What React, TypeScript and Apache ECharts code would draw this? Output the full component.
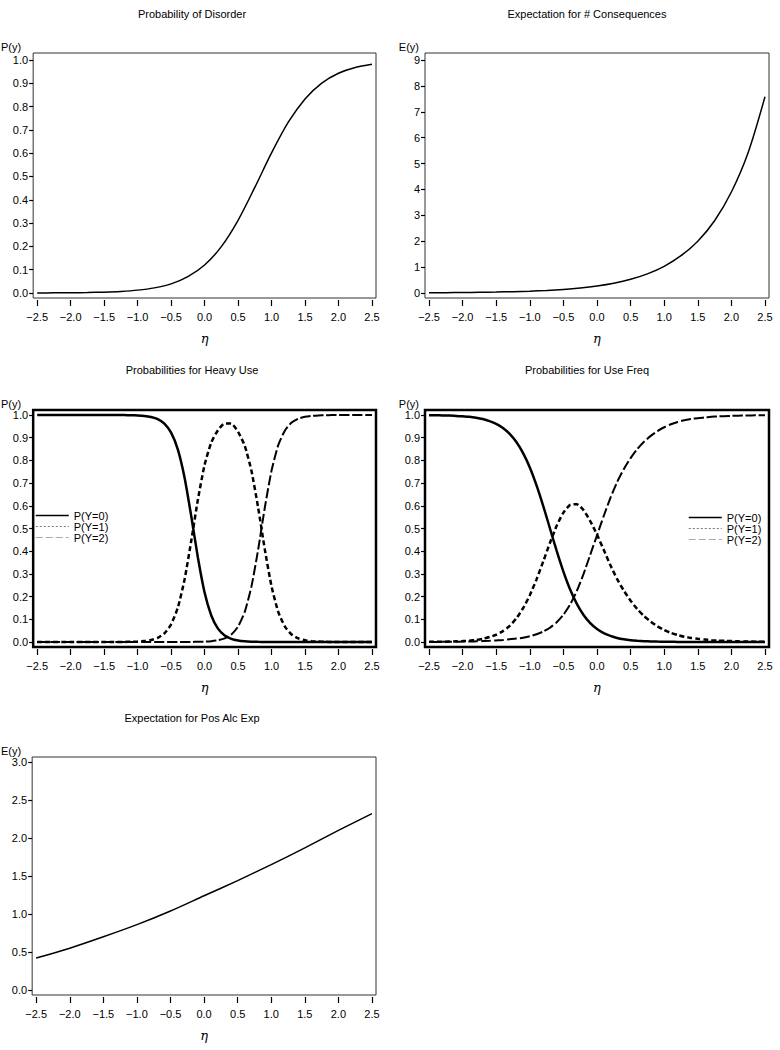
import React, { useEffect, useRef } from "react";
import * as echarts from "echarts";

// ---------- data ----------
const etaCoarse = [-2.5, -2.25, -2.0, -1.75, -1.5, -1.25, -1.0, -0.75, -0.5, -0.25, 0.0, 0.25, 0.5, 0.75, 1.0, 1.25, 1.5, 1.75, 2.0, 2.25, 2.5];
const disorderP = [0.0003, 0.0006, 0.0011, 0.002, 0.0037, 0.0068, 0.0123, 0.022, 0.039, 0.07, 0.12, 0.199, 0.312, 0.453, 0.601, 0.733, 0.833, 0.901, 0.943, 0.968, 0.982];
const consequencesE = [0.01, 0.014, 0.019, 0.027, 0.037, 0.052, 0.072, 0.1, 0.14, 0.196, 0.273, 0.38, 0.53, 0.739, 1.03, 1.44, 2.0, 2.79, 3.9, 5.43, 7.58];

const etaFine = [-2.5, -2.4, -2.3, -2.2, -2.1, -2.0, -1.9, -1.8, -1.7, -1.6, -1.5, -1.4, -1.3, -1.2, -1.1, -1.0, -0.9, -0.8, -0.7, -0.6, -0.5, -0.4, -0.3, -0.2, -0.1, 0.0, 0.1, 0.2, 0.3, 0.4, 0.5, 0.6, 0.7, 0.8, 0.9, 1.0, 1.1, 1.2, 1.3, 1.4, 1.5, 1.6, 1.7, 1.8, 1.9, 2.0, 2.1, 2.2, 2.3, 2.4, 2.5];

const heavyP0 = [1, 1, 1, 1, 1, 1, 1, 1, 1, 1, 1, 0.9999, 0.9998, 0.9996, 0.9991, 0.998, 0.996, 0.991, 0.982, 0.962, 0.922, 0.849, 0.726, 0.556, 0.372, 0.218, 0.117, 0.059, 0.029, 0.014, 0.0065, 0.003, 0.0015, 0.0007, 0.0003, 0.0001, 0, 0, 0, 0, 0, 0, 0, 0, 0, 0, 0, 0, 0, 0, 0];
const heavyP1 = [0, 0, 0, 0, 0, 0, 0, 0, 0, 0, 0, 0.0001, 0.0002, 0.0004, 0.0009, 0.002, 0.004, 0.009, 0.018, 0.038, 0.078, 0.151, 0.274, 0.444, 0.627, 0.78, 0.879, 0.933, 0.963, 0.962, 0.926, 0.864, 0.754, 0.592, 0.407, 0.245, 0.133, 0.068, 0.033, 0.016, 0.0076, 0.0036, 0.0017, 0.0008, 0.0004, 0.0002, 0.0001, 0, 0, 0, 0];
const heavyP2 = [0, 0, 0, 0, 0, 0, 0, 0, 0, 0, 0, 0, 0, 0, 0, 0, 0, 0, 0, 0, 0, 0, 0, 0.0004, 0.0008, 0.0017, 0.0036, 0.0076, 0.016, 0.033, 0.068, 0.133, 0.245, 0.407, 0.593, 0.755, 0.867, 0.932, 0.967, 0.984, 0.992, 0.996, 0.998, 0.999, 0.9996, 1, 1, 1, 1, 1, 1];

const freqP0 = [0.999, 0.999, 0.998, 0.998, 0.996, 0.994, 0.992, 0.988, 0.982, 0.973, 0.961, 0.943, 0.917, 0.881, 0.832, 0.769, 0.69, 0.599, 0.5, 0.401, 0.31, 0.231, 0.168, 0.119, 0.083, 0.057, 0.039, 0.027, 0.018, 0.012, 0.008, 0.0055, 0.0037, 0.0025, 0.0017, 0.0011, 0.0008, 0.0005, 0.0003, 0.0002, 0.0001, 0, 0, 0, 0, 0, 0, 0, 0, 0, 0];
const freqP1 = [0.001, 0.001, 0.001, 0.002, 0.003, 0.004, 0.006, 0.009, 0.014, 0.022, 0.032, 0.048, 0.071, 0.104, 0.149, 0.206, 0.276, 0.355, 0.437, 0.512, 0.57, 0.604, 0.607, 0.581, 0.532, 0.473, 0.406, 0.338, 0.277, 0.226, 0.182, 0.145, 0.114, 0.09, 0.069, 0.053, 0.04, 0.031, 0.023, 0.018, 0.014, 0.011, 0.008, 0.006, 0.005, 0.004, 0.003, 0.002, 0.002, 0.001, 0.001];
const freqP2 = [0, 0, 0.001, 0.001, 0.001, 0.002, 0.002, 0.003, 0.004, 0.005, 0.007, 0.009, 0.012, 0.015, 0.019, 0.025, 0.034, 0.046, 0.063, 0.087, 0.12, 0.165, 0.225, 0.3, 0.385, 0.47, 0.555, 0.635, 0.705, 0.762, 0.81, 0.85, 0.882, 0.908, 0.929, 0.946, 0.959, 0.969, 0.977, 0.982, 0.986, 0.989, 0.992, 0.994, 0.995, 0.996, 0.997, 0.998, 0.998, 0.999, 0.999];

const etaHalf = [-2.5, -2.0, -1.5, -1.0, -0.5, 0.0, 0.5, 1.0, 1.5, 2.0, 2.5];
const posAlcE = [0.42, 0.55, 0.7, 0.86, 1.04, 1.24, 1.44, 1.65, 1.87, 2.1, 2.32];

const xTicks = [-2.5, -2.0, -1.5, -1.0, -0.5, 0.0, 0.5, 1.0, 1.5, 2.0, 2.5];
const probTicks = [0, 0.1, 0.2, 0.3, 0.4, 0.5, 0.6, 0.7, 0.8, 0.9, 1.0];
const countTicks = [0, 1, 2, 3, 4, 5, 6, 7, 8, 9];
const posTicks = [0, 0.5, 1.0, 1.5, 2.0, 2.5, 3.0];

const titles = [
  "Probability of Disorder",
  "Expectation for # Consequences",
  "Probabilities for Heavy Use",
  "Probabilities for Use Freq",
  "Expectation for Pos Alc Exp",
];
const catNames = ["P(Y=0)", "P(Y=1)", "P(Y=2)"];

// ---------- styling ----------
const SANS = "'Liberation Sans', Arial, sans-serif";
const fmt1 = (v: number) => v.toFixed(1).replace("-", "\u2212");
const fmt0 = (v: number) => String(Math.round(v));

const pairs = (xs: number[], ys: number[]) => xs.map((x, i) => [x, ys[i]]);

const panels = [
  { left: 32, top: 53, height: 245, ymin: -0.0215, ymax: 1.03, yTicks: probTicks, yFmt: fmt1, yName: "P(y)", namePad: 12, tx: 192, ty: 8, bw: 1, bc: "#333" },
  { left: 425, top: 53, height: 245, ymin: -0.193, ymax: 9.27, yTicks: countTicks, yFmt: fmt0, yName: "E(y)", namePad: 6, tx: 587, ty: 8, bw: 1, bc: "#333" },
  { left: 32, top: 410, height: 237, ymin: -0.022, ymax: 1.022, yTicks: probTicks, yFmt: fmt1, yName: "P(y)", namePad: 12, tx: 192, ty: 364, bw: 2.5, bc: "#000" },
  { left: 425, top: 410, height: 237, ymin: -0.022, ymax: 1.022, yTicks: probTicks, yFmt: fmt1, yName: "P(y)", namePad: 6, tx: 587, ty: 364, bw: 2.5, bc: "#000" },
  { left: 32, top: 757, height: 238, ymin: -0.066, ymax: 3.066, yTicks: posTicks, yFmt: fmt1, yName: "E(y)", namePad: 11, tx: 192, ty: 712, bw: 1, bc: "#333" },
];

const catStyles = [
  { type: "solid" as any, width: 2.5 },
  { type: [5, 3] as any, width: 2.5 },
  { type: [10, 3] as any, width: 2 },
];

export default function App() {
  const ref = useRef<HTMLDivElement>(null);
  useEffect(() => {
    if (!ref.current) return;
    const chart = echarts.init(ref.current, undefined, { renderer: "svg" });

    const grid = panels.map((p) => ({
      left: p.left,
      top: p.top,
      width: 344,
      height: p.height,
      show: true,
      borderColor: p.bc,
      borderWidth: p.bw,
      backgroundColor: "transparent",
    }));

    const xAxis = panels.map((p, i) => ({
      gridIndex: i,
      type: "value",
      min: -2.56,
      max: 2.56,
      position: "bottom",
      offset: 2,
      axisLine: { show: false, onZero: false },
      axisTick: { show: true, length: 6, customValues: xTicks, lineStyle: { color: "#000", width: 1.2 } },
      axisLabel: { customValues: xTicks, margin: 11, formatter: fmt1, fontFamily: SANS, fontSize: 11, color: "#000" },
      splitLine: { show: false },
      name: "\u03B7",
      nameLocation: "middle",
      nameGap: 32,
      nameTextStyle: { fontFamily: "'DejaVu Serif', serif", fontStyle: "italic", fontSize: 13, color: "#000" },
    }));

    const yAxis = panels.map((p, i) => ({
      gridIndex: i,
      type: "value",
      position: "left",
      min: p.ymin,
      max: p.ymax,
      axisLine: { show: false, onZero: false },
      axisTick: { show: true, length: 4, customValues: p.yTicks, lineStyle: { color: "#000", width: 1.2 } },
      axisLabel: { customValues: p.yTicks, margin: 5, formatter: p.yFmt, fontFamily: SANS, fontSize: 11, color: "#000" },
      splitLine: { show: false },
      name: p.yName,
      nameLocation: "end",
      nameGap: 1,
      nameTextStyle: { fontFamily: SANS, fontSize: 11, color: "#000", align: "right", padding: [0, p.namePad, 0, 0] },
    }));

    const single = (i: number, xs: number[], ys: number[], name: string) => ({
      type: "line",
      name,
      xAxisIndex: i,
      yAxisIndex: i,
      data: pairs(xs, ys),
      symbol: "none",
      smooth: 0.3,
      lineStyle: { color: "#000", width: 1.5 },
    });

    const cat = (i: number, k: number, ys: number[]) => ({
      type: "line",
      name: catNames[k],
      xAxisIndex: i,
      yAxisIndex: i,
      data: pairs(etaFine, ys),
      symbol: "none",
      smooth: 0.2,
      color: "#000",
      lineStyle: { color: "#000", width: catStyles[k].width, type: catStyles[k].type },
    });

    const series = [
      single(0, etaCoarse, disorderP, "Disorder"),
      single(1, etaCoarse, consequencesE, "Consequences"),
      cat(2, 0, heavyP0),
      cat(2, 1, heavyP1),
      cat(2, 2, heavyP2),
      cat(3, 0, freqP0),
      cat(3, 1, freqP1),
      cat(3, 2, freqP2),
      single(4, etaHalf, posAlcE, "PosAlcExp"),
    ];

    const hidden = { color: "rgba(0,0,0,0)", borderWidth: 0, opacity: 0 };
    const legendData = [
      { name: catNames[0], itemStyle: hidden, lineStyle: { color: "#000", width: 1.5, type: "solid" } },
      { name: catNames[1], itemStyle: hidden, lineStyle: { color: "#777", width: 1, type: [2, 2] } },
      { name: catNames[2], itemStyle: hidden, lineStyle: { color: "#aaa", width: 1, type: [7, 3] } },
    ];
    const legendBase = {
      orient: "vertical",
      itemWidth: 33,
      itemHeight: 8,
      itemGap: 0,
      padding: 0,
      selectedMode: false,
      textStyle: { fontFamily: SANS, fontSize: 11, color: "#000", lineHeight: 11 },
      data: legendData,
    };

    chart.setOption({
      animation: false,
      backgroundColor: "#fff",
      title: panels.map((p, i) => ({
        text: titles[i],
        left: p.tx,
        top: p.ty,
        textAlign: "center",
        padding: 0,
        textStyle: { fontFamily: SANS, fontSize: 11, fontWeight: "normal", color: "#000" },
      })),
      legend: [
        { ...legendBase, left: 35, top: 510 },
        { ...legendBase, left: 688, top: 512 },
      ],
      grid,
      xAxis,
      yAxis,
      series,
    } as any);

    return () => chart.dispose();
  }, []);

  return (
    <div
      ref={ref}
      style={{ position: "absolute", left: 0, top: 0, width: 780, height: 1050, background: "#fff" }}
    />
  );
}
